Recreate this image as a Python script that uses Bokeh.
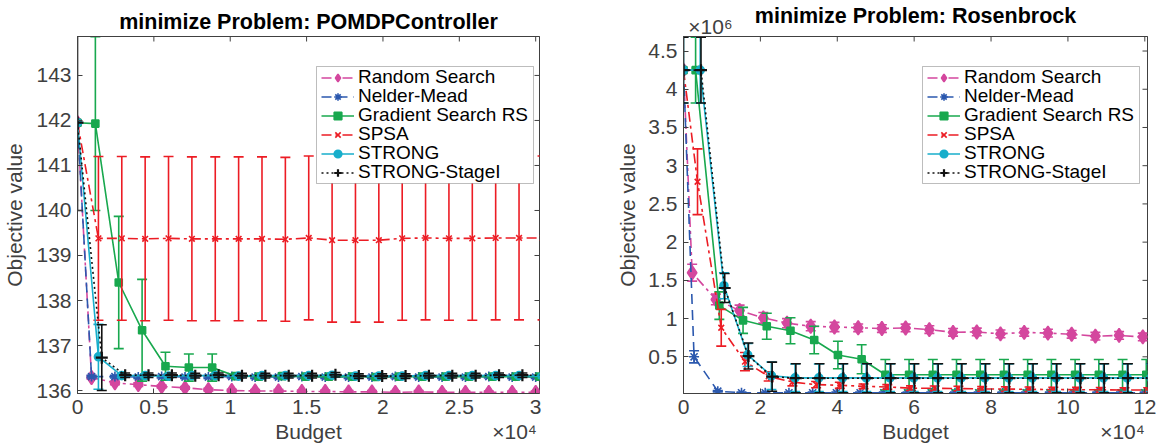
import math

from bokeh.embed import file_html
from bokeh.layouts import row
from bokeh.models import BoxAnnotation, FixedTicker, Legend, LegendItem, LinearAxis, Range1d
from bokeh.plotting import figure
from bokeh.resources import INLINE

SOLVERS = ["Random Search", "Nelder-Mead", "Gradient Search RS", "SPSA", "STRONG", "STRONG-StageI"]

# ---------------- POMDPController ----------------
pomdp_budget = [0, 920, 2450, 3980, 5510, 7040, 8570, 10100, 11630, 13160, 14690,
                16220, 17750, 19280, 20810, 22340, 23870, 25400, 26930, 28460, 30000]
# small per-solver horizontal shift so the error bars do not overlap
pomdp_shift = [0, 0, 250, 450, 450, 670]

pomdp_random = [141.95, 136.29, 136.17, 136.13, 136.09, 136.06, 136.02, 136.00, 135.99, 135.99, 135.98,
                135.98, 135.97, 135.97, 135.96, 135.97, 135.96, 135.96, 135.96, 135.96, 135.96]
pomdp_random_err = [0, 0.04, 0.04, 0.04, 0.03, 0.03, 0.03, 0.03, 0.03, 0.03, 0.03,
                    0.03, 0.03, 0.03, 0.03, 0.03, 0.03, 0.03, 0.03, 0.03, 0.03]
pomdp_nelder = [141.95, 136.31, 136.31, 136.30, 136.31, 136.30, 136.30, 136.31, 136.30, 136.30, 136.31,
                136.30, 136.30, 136.30, 136.31, 136.30, 136.30, 136.30, 136.31, 136.30, 136.30]
pomdp_nelder_err = [0, 0.03, 0.03, 0.03, 0.03, 0.03, 0.03, 0.03, 0.03, 0.03, 0.03,
                    0.03, 0.03, 0.03, 0.03, 0.03, 0.03, 0.03, 0.03, 0.03, 0.03]
pomdp_gradient = [141.95, 141.93, 138.40, 137.34, 136.54, 136.51, 136.51, 136.32, 136.31, 136.32, 136.31,
                  136.31, 136.31, 136.30, 136.31, 136.31, 136.31, 136.31, 136.31, 136.31, 136.31]
pomdp_gradient_err = [0, 1.93, 1.47, 1.13, 0.31, 0.30, 0.30, 0.04, 0.04, 0.04, 0.04,
                      0.04, 0.04, 0.04, 0.04, 0.04, 0.04, 0.04, 0.04, 0.04, 0.04]
pomdp_spsa = [141.95, 139.38, 139.38, 139.37, 139.38, 139.37, 139.37, 139.37, 139.37, 139.36, 139.39,
              139.34, 139.34, 139.34, 139.38, 139.39, 139.38, 139.38, 139.39, 139.39, 139.39]
pomdp_spsa_err = [0, 1.82, 1.82, 1.82, 1.82, 1.82, 1.82, 1.82, 1.82, 1.82, 1.82,
                  1.82, 1.82, 1.82, 1.82, 1.82, 1.82, 1.82, 1.82, 1.82, 1.82]
pomdp_strong = [141.95, 136.75, 136.33, 136.33, 136.32, 136.33, 136.33, 136.32, 136.33, 136.33, 136.33,
                136.34, 136.32, 136.32, 136.32, 136.33, 136.33, 136.33, 136.33, 136.33, 136.32]
pomdp_strong_err = [0, 0.72, 0.04, 0.04, 0.04, 0.04, 0.04, 0.04, 0.04, 0.04, 0.04,
                    0.04, 0.04, 0.04, 0.04, 0.04, 0.04, 0.04, 0.04, 0.04, 0.04]
pomdp_stage = [141.95, 136.73, 136.34, 136.34, 136.34, 136.33, 136.34, 136.33, 136.33, 136.33, 136.33,
               136.35, 136.32, 136.32, 136.32, 136.33, 136.33, 136.33, 136.34, 136.34, 136.34]
pomdp_stage_err = [1.95, 0.73, 0.05, 0.05, 0.05, 0.05, 0.05, 0.05, 0.05, 0.05, 0.05,
                   0.05, 0.05, 0.05, 0.05, 0.05, 0.05, 0.05, 0.05, 0.05, 0.05]

pomdp_xticks = [0, 5000, 10000, 15000, 20000, 25000, 30000]
pomdp_xlabels = ["0", "0.5", "1", "1.5", "2", "2.5", "3"]
pomdp_yticks = [136, 137, 138, 139, 140, 141, 142, 143]
pomdp_ylabels = ["136", "137", "138", "139", "140", "141", "142", "143"]

# ---------------- Rosenbrock (objective in units of 1e6) ----------------
rosen_budget = [0, 2250, 8420, 14590, 20760, 26930, 33100, 39270, 45440, 51610, 57780,
                63950, 70120, 76290, 82460, 88630, 94800, 100970, 107140, 113310, 119480]
rosen_shift = [0, 500, 900, 1400, 2100, 2300]

rosen_random = [4.25, 1.60, 1.25, 1.106, 1.01, 0.94, 0.90, 0.89, 0.88, 0.87, 0.877,
                0.856, 0.82, 0.825, 0.80, 0.82, 0.81, 0.795, 0.77, 0.78, 0.76]
rosen_random_err = [0, 0.11, 0.07, 0.07, 0.07, 0.06, 0.06, 0.06, 0.05, 0.05, 0.05,
                    0.05, 0.05, 0.05, 0.05, 0.05, 0.05, 0.05, 0.05, 0.05, 0.05]
rosen_nelder = [4.25, 0.50, 0.05, 0.03, 0.03, 0.03, 0.03, 0.03, 0.03, 0.03, 0.03,
                0.03, 0.03, 0.03, 0.03, 0.03, 0.03, 0.03, 0.03, 0.03, 0.03]
rosen_nelder_err = [0, 0.08, 0.01, 0.01, 0.01, 0.01, 0.01, 0.01, 0.01, 0.01, 0.01,
                    0.01, 0.01, 0.01, 0.01, 0.01, 0.01, 0.01, 0.01, 0.01, 0.01]
rosen_gradient = [4.25, 4.25, 1.17, 0.977, 0.90, 0.84, 0.72, 0.524, 0.468, 0.265, 0.265,
                  0.265, 0.265, 0.265, 0.265, 0.265, 0.265, 0.265, 0.265, 0.265, 0.265]
rosen_gradient_err = [0, 0.43, 0.18, 0.17, 0.17, 0.17, 0.18, 0.18, 0.19, 0.20, 0.20,
                      0.20, 0.20, 0.20, 0.20, 0.20, 0.20, 0.20, 0.20, 0.20, 0.20]
rosen_spsa = [4.25, 2.79, 0.88, 0.437, 0.243, 0.17, 0.136, 0.127, 0.114, 0.106, 0.09,
              0.088, 0.085, 0.08, 0.078, 0.075, 0.072, 0.07, 0.068, 0.066, 0.065]
rosen_spsa_err = [0, 0.43, 0.24, 0.12, 0.06, 0.05, 0.04, 0.04, 0.03, 0.03, 0.03,
                  0.03, 0.03, 0.03, 0.03, 0.03, 0.03, 0.03, 0.03, 0.03, 0.03]
rosen_strong = [4.25, 4.25, 1.43, 0.524, 0.252, 0.225, 0.225, 0.225, 0.225, 0.225, 0.225,
                0.225, 0.225, 0.225, 0.225, 0.225, 0.225, 0.225, 0.225, 0.225, 0.225]
rosen_strong_err = [0.43, 0.43, 0.17, 0.15, 0.18, 0.18, 0.18, 0.18, 0.18, 0.18, 0.18,
                    0.18, 0.18, 0.18, 0.18, 0.18, 0.18, 0.18, 0.18, 0.18, 0.18]
rosen_stage = [4.25, 4.25, 1.40, 0.51, 0.24, 0.22, 0.22, 0.22, 0.22, 0.22, 0.22,
               0.22, 0.22, 0.22, 0.22, 0.22, 0.22, 0.22, 0.22, 0.22, 0.22]
rosen_stage_err = [0.43, 0.43, 0.19, 0.17, 0.19, 0.19, 0.19, 0.19, 0.19, 0.19, 0.19,
                   0.19, 0.19, 0.19, 0.19, 0.19, 0.19, 0.19, 0.19, 0.19, 0.19]

rosen_xticks = [0, 20000, 40000, 60000, 80000, 100000, 120000]
rosen_xlabels = ["0", "2", "4", "6", "8", "10", "12"]
rosen_yticks = [0.5, 1.0, 1.5, 2.0, 2.5, 3.0, 3.5, 4.0, 4.5]
rosen_ylabels = ["0.5", "1", "1.5", "2", "2.5", "3", "3.5", "4", "4.5"]

STYLE = {
    "Random Search": dict(color="#D4479E", dash="10 4 3 4", marker="diamond", size=14, fill=True, lw=1.6),
    "Nelder-Mead": dict(color="#2B58AE", dash="10 6", marker="asterisk", size=10, fill=False, lw=1.6),
    "Gradient Search RS": dict(color="#18A84E", dash="solid", marker="square", size=7, fill=True, lw=1.6),
    "SPSA": dict(color="#EC1C24", dash="10 4 3 4", marker="x", size=8, fill=False, lw=1.6),
    "STRONG": dict(color="#17AECB", dash="solid", marker="circle", size=8, fill=True, lw=1.6),
    "STRONG-StageI": dict(color="#111111", dash="2 3", marker="cross", size=12, fill=False, lw=2.2),
}

FONT = "Liberation Sans"
AXIS = "#404040"
W, H = 578, 448

# legend box, in pixels from the frame's left / bottom edge
LEG_LEFT, LEG_RIGHT, LEG_BOTTOM, LEG_TOP = 239, 456, 210, 327
LEG_ROW = 19


def draw_series(p, budget, shift, ys, errs, st):
    xs = [budget[0]] + [b + shift for b in budget[1:]]
    c = st["color"]
    line = p.line(xs, ys, line_color=c, line_width=1.6, line_dash=st["dash"])
    ex = [x for x, e in zip(xs, errs) if e > 0]
    lo = [y - e for y, e in zip(ys, errs) if e > 0]
    hi = [y + e for y, e in zip(ys, errs) if e > 0]
    p.segment(ex, lo, ex, hi, line_color=c, line_width=1.6)
    p.scatter(ex + ex, lo + hi, marker="dash", size=10, line_color=c, line_width=1.6)
    mk = p.scatter(xs, ys, marker=st["marker"], size=st["size"], line_color=c,
                   fill_color=c if st["fill"] else None, line_width=st["lw"])
    return [line, mk]


def make_panel(title, x_end, y_range, border_left, border_right, xticks, xlabels,
               yticks, ylabels, ylabel_standoff, budget, shifts, series,
               bottom_text, top_text, top_standoff, title_standoff):
    p = figure(width=W, height=H, output_backend="svg", toolbar_location=None,
               x_range=Range1d(0, x_end), y_range=Range1d(*y_range),
               min_border_left=border_left, min_border_right=border_right,
               min_border_top=33, min_border_bottom=55)
    p.xgrid.visible = False
    p.ygrid.visible = False
    p.outline_line_color = AXIS
    p.background_fill_color = "white"
    p.border_fill_color = "white"

    p.xaxis.ticker = FixedTicker(ticks=xticks)
    p.yaxis.ticker = FixedTicker(ticks=yticks)
    p.xaxis.major_label_overrides = dict(zip(xticks, xlabels))
    p.yaxis.major_label_overrides = dict(zip(yticks, ylabels))
    for ax in (p.xaxis[0], p.yaxis[0]):
        ax.major_label_text_font = FONT
        ax.major_label_text_font_size = "21px"
        ax.major_label_text_color = AXIS
        ax.major_label_standoff = 6
        ax.axis_line_color = AXIS
        ax.major_tick_line_color = AXIS
        ax.major_tick_in = 5
        ax.major_tick_out = 0
        ax.minor_tick_line_color = None

    yax = p.yaxis[0]
    yax.axis_label = "Objective value"
    yax.axis_label_text_font = FONT
    yax.axis_label_text_font_size = "21px"
    yax.axis_label_text_font_style = "normal"
    yax.axis_label_text_color = AXIS
    yax.axis_label_standoff = ylabel_standoff

    # second row under the tick labels: axis name and the x-scale factor
    (name_x, name), (fac_x, fac) = bottom_text
    under = LinearAxis(ticker=FixedTicker(ticks=[name_x, fac_x]),
                       major_label_overrides={name_x: name, fac_x: fac})
    under.axis_line_color = None
    under.major_tick_line_color = None
    under.minor_tick_line_color = None
    under.major_label_standoff = -3
    under.major_label_text_font = FONT
    under.major_label_text_font_size = "21px"
    under.major_label_text_color = AXIS
    p.add_layout(under, "below")

    # top edge: panel title, plus an optional y-scale factor at the left
    top_ticks = [top_text[0]] if top_text else []
    top = LinearAxis(ticker=FixedTicker(ticks=top_ticks),
                     major_label_overrides={top_text[0]: top_text[1]} if top_text else {})
    top.axis_line_color = AXIS
    top.major_tick_line_color = None
    top.minor_tick_line_color = None
    top.major_label_standoff = top_standoff
    top.major_label_text_font = FONT
    top.major_label_text_font_size = "21px"
    top.major_label_text_color = AXIS
    top.axis_label = title
    top.axis_label_text_font = FONT
    top.axis_label_text_font_size = "21.5px"
    top.axis_label_text_font_style = "bold"
    top.axis_label_text_color = "#000000"
    top.axis_label_standoff = title_standoff
    p.add_layout(top, "above")

    # inward tick marks on the top and right edges of the box
    p.scatter(xticks, [y_range[1]] * len(xticks), marker="dash", angle=math.pi / 2,
              size=10, line_color=AXIS, line_width=1)
    p.scatter([x_end] * len(yticks), yticks, marker="dash", size=10,
              line_color=AXIS, line_width=1)

    entries = []
    for name_, shift, (ys, errs) in zip(SOLVERS, shifts, series):
        rs = draw_series(p, budget, shift, ys, errs, STYLE[name_])
        entries.append((name_, rs))

    # legend: one framed box, one compact row per solver
    p.add_layout(BoxAnnotation(left=LEG_LEFT, right=LEG_RIGHT, bottom=LEG_BOTTOM, top=LEG_TOP,
                               left_units="screen", right_units="screen",
                               bottom_units="screen", top_units="screen",
                               fill_color="white", fill_alpha=1.0,
                               line_color="#262626", line_width=1))
    for i, (name_, rs) in enumerate(entries):
        row_bottom = LEG_TOP - 22 - i * LEG_ROW
        leg = Legend(items=[LegendItem(label=name_, renderers=rs)],
                     location=(LEG_LEFT + 5, row_bottom),
                     label_text_font=FONT, label_text_font_size="19px",
                     label_text_color="#000000", glyph_width=33, glyph_height=19,
                     label_height=19, spacing=0, padding=0, margin=0, label_standoff=4,
                     border_line_color=None, background_fill_alpha=0.0)
        p.add_layout(leg)
    return p


left = make_panel(
    "minimize Problem: POMDPController", 30250, (135.934, 143.865), 76, 39,
    pomdp_xticks, pomdp_xlabels, pomdp_yticks, pomdp_ylabels, 7,
    pomdp_budget, pomdp_shift,
    [(pomdp_random, pomdp_random_err), (pomdp_nelder, pomdp_nelder_err),
     (pomdp_gradient, pomdp_gradient_err), (pomdp_spsa, pomdp_spsa_err),
     (pomdp_strong, pomdp_strong_err), (pomdp_stage, pomdp_stage_err)],
    ((15125, "Budget"), (28617, "\u00d710\u2074")), None, 2, 3)

right = make_panel(
    "minimize Problem: Rosenbrock", 120700, (0.02, 4.69), 105, 9,
    rosen_xticks, rosen_xlabels, rosen_yticks, rosen_ylabels, 6,
    rosen_budget, rosen_shift,
    [(rosen_random, rosen_random_err), (rosen_nelder, rosen_nelder_err),
     (rosen_gradient, rosen_gradient_err), (rosen_spsa, rosen_spsa_err),
     (rosen_strong, rosen_strong_err), (rosen_stage, rosen_stage_err)],
    ((60350, "Budget"), (114198, "\u00d710\u2074")), (7024, "\u00d710\u2076"), -7, -16)

layout = row(left, right)
open("out.html", "w").write(file_html(layout, INLINE))
